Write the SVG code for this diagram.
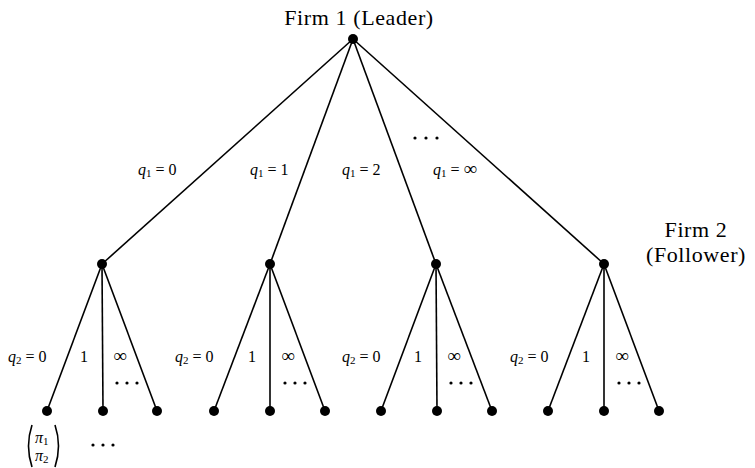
<svg xmlns="http://www.w3.org/2000/svg" width="755" height="468" viewBox="0 0 755 468">
<style>
.e{stroke:#000;stroke-width:1.6;fill:none}
.n{fill:#000}
.t{font-family:"Liberation Serif","DejaVu Serif",serif;fill:#000}
.h{font-size:22px;letter-spacing:0.6px}
.m{font-size:16px}
.i{font-style:italic}
.s{font-size:11px}
.inf{font-size:19px}
</style>
<rect width="755" height="468" fill="#fff"/>
<g id="connectors">
<line class="e" x1="353" y1="39" x2="102" y2="264"/>
<line class="e" x1="353" y1="39" x2="270" y2="264"/>
<line class="e" x1="353" y1="39" x2="436" y2="264"/>
<line class="e" x1="353" y1="39" x2="604" y2="264"/>
<line class="e" x1="102" y1="264" x2="47" y2="411"/><line class="e" x1="102" y1="264" x2="103" y2="411"/><line class="e" x1="102" y1="264" x2="157" y2="411"/>
<line class="e" x1="270" y1="264" x2="214" y2="411"/><line class="e" x1="270" y1="264" x2="270" y2="411"/><line class="e" x1="270" y1="264" x2="325" y2="411"/>
<line class="e" x1="436" y1="264" x2="381" y2="411"/><line class="e" x1="436" y1="264" x2="437" y2="411"/><line class="e" x1="436" y1="264" x2="492" y2="411"/>
<line class="e" x1="604" y1="264" x2="548" y2="411"/><line class="e" x1="604" y1="264" x2="604" y2="411"/><line class="e" x1="604" y1="264" x2="659" y2="411"/>
</g>
<g id="root"><circle class="n" cx="353" cy="39" r="5"/><text class="t h" x="359" y="25" text-anchor="middle">Firm 1 (Leader)</text></g>
<g id="f2a"><circle class="n" cx="102" cy="264" r="5"/></g>
<g id="f2b"><circle class="n" cx="270" cy="264" r="5"/></g>
<g id="f2c"><circle class="n" cx="436" cy="264" r="5"/></g>
<g id="f2d"><circle class="n" cx="604" cy="264" r="5"/></g>
<g id="firm2label"><text class="t h" x="696" y="237" text-anchor="middle">Firm 2</text><text class="t h" x="696" y="262" text-anchor="middle">(Follower)</text></g>
<g id="leaves">
<circle class="n" cx="47" cy="411" r="5"/><circle class="n" cx="103" cy="411" r="5"/><circle class="n" cx="157" cy="411" r="5"/>
<circle class="n" cx="214" cy="411" r="5"/><circle class="n" cx="270" cy="411" r="5"/><circle class="n" cx="325" cy="411" r="5"/>
<circle class="n" cx="381" cy="411" r="5"/><circle class="n" cx="437" cy="411" r="5"/><circle class="n" cx="492" cy="411" r="5"/>
<circle class="n" cx="548" cy="411" r="5"/><circle class="n" cx="604" cy="411" r="5"/><circle class="n" cx="659" cy="411" r="5"/>
</g>
<g id="q1labels" class="t m">
<text x="138" y="175"><tspan class="i">q</tspan><tspan class="s" dy="2">1</tspan><tspan dy="-2"> = 0</tspan></text>
<text x="250" y="175"><tspan class="i">q</tspan><tspan class="s" dy="2">1</tspan><tspan dy="-2"> = 1</tspan></text>
<text x="342" y="175"><tspan class="i">q</tspan><tspan class="s" dy="2">1</tspan><tspan dy="-2"> = 2</tspan></text>
<text x="433" y="175"><tspan class="i">q</tspan><tspan class="s" dy="2">1</tspan><tspan dy="-2"> = </tspan><tspan class="inf">∞</tspan></text>
</g>
<g id="dots1" class="n"><circle cx="415" cy="138" r="1.6"/><circle cx="426" cy="138" r="1.6"/><circle cx="437" cy="138" r="1.6"/></g>
<g id="q2labels" class="t m">
<text x="8" y="362"><tspan class="i">q</tspan><tspan class="s" dy="2">2</tspan><tspan dy="-2"> = 0</tspan></text>
<text x="84" y="362" text-anchor="middle">1</text><text class="inf" x="120" y="362" text-anchor="middle">∞</text>
<text x="175" y="362"><tspan class="i">q</tspan><tspan class="s" dy="2">2</tspan><tspan dy="-2"> = 0</tspan></text>
<text x="252" y="362" text-anchor="middle">1</text><text class="inf" x="288" y="362" text-anchor="middle">∞</text>
<text x="342" y="362"><tspan class="i">q</tspan><tspan class="s" dy="2">2</tspan><tspan dy="-2"> = 0</tspan></text>
<text x="418" y="362" text-anchor="middle">1</text><text class="inf" x="454" y="362" text-anchor="middle">∞</text>
<text x="510" y="362"><tspan class="i">q</tspan><tspan class="s" dy="2">2</tspan><tspan dy="-2"> = 0</tspan></text>
<text x="586" y="362" text-anchor="middle">1</text><text class="inf" x="622" y="362" text-anchor="middle">∞</text>
</g>
<g id="dots2" class="n">
<circle cx="117" cy="383" r="1.6"/><circle cx="127" cy="383" r="1.6"/><circle cx="137" cy="383" r="1.6"/>
<circle cx="285" cy="383" r="1.6"/><circle cx="295" cy="383" r="1.6"/><circle cx="305" cy="383" r="1.6"/>
<circle cx="451" cy="383" r="1.6"/><circle cx="461" cy="383" r="1.6"/><circle cx="471" cy="383" r="1.6"/>
<circle cx="619" cy="383" r="1.6"/><circle cx="629" cy="383" r="1.6"/><circle cx="639" cy="383" r="1.6"/>
<circle cx="93" cy="445" r="1.6"/><circle cx="103" cy="445" r="1.6"/><circle cx="113" cy="445" r="1.6"/>
</g>
<g id="payoff">
<path class="e" d="M32 425 Q25 446 32 467" stroke-width="1.1"/>
<path class="e" d="M55 425 Q62 446 55 467" stroke-width="1.1"/>
<text class="t i" font-size="16" x="35" y="443">π<tspan class="s" font-style="normal" dy="2">1</tspan></text>
<text class="t i" font-size="16" x="35" y="461">π<tspan class="s" font-style="normal" dy="2">2</tspan></text>
</g>
</svg>
